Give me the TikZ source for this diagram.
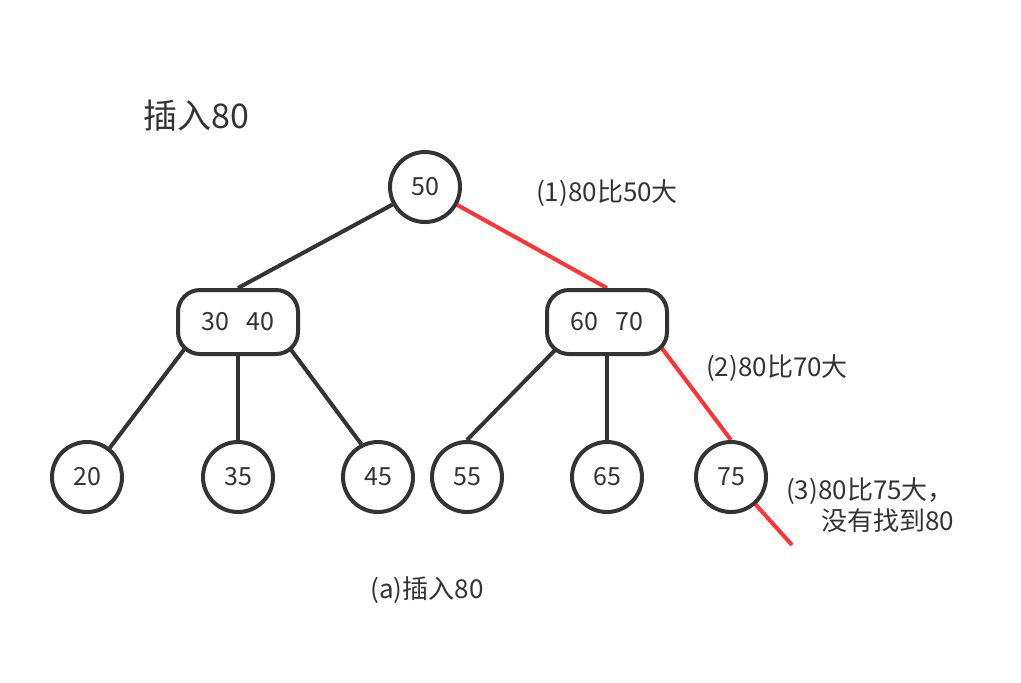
\documentclass[tikz,border=0pt]{standalone}
\usepackage{fontspec}
\setmainfont{Noto Sans CJK SC}
\usepackage{xcolor}
\usepackage{tikz}
\usetikzlibrary{calc,backgrounds}
\definecolor{linec}{HTML}{333333}
\definecolor{redc}{HTML}{FF3333}
\tikzset{
  ln/.style={line width=2pt,linec},
  rd/.style={line width=2pt,redc},
  nd/.style={circle,draw=linec,line width=2pt,fill=white,minimum size=35pt,inner sep=0pt,text=linec,font=\fontsize{12.5}{15}\selectfont},
  box/.style={draw=linec,line width=2pt,rounded corners=11pt,fill=white,minimum width=60pt,minimum height=32pt,inner sep=0pt,text=linec,font=\fontsize{12.5}{15}\selectfont},
  lab/.style={text=linec,inner sep=0pt,font=\fontsize{13}{15.5}\selectfont}
}

\begin{document}
\begin{tikzpicture}[x=0.5pt,y=-0.5pt]
\useasboundingbox (0,0) rectangle (1021,682);
\node[lab,font=\fontsize{17}{20}\selectfont] (title) at (196,116) {插入80};
\node[nd] (n50) at (425,187) {50};
\node[box] (b1) at (238,322) {30\hspace{0.7em}40};
\node[box] (b2) at (607,322) {60\hspace{0.7em}70};
\foreach \v/\x in {20/87,35/238,45/378,55/467,65/607,75/731}
 \node[nd] (n\v) at (\x,477) {\v};
\coordinate (end) at (792,545);
% edges behind the nodes
\begin{scope}[on background layer]
\draw[ln] (n50) -- (b1.north);
\draw[rd] (n50) -- (b2.north);
\draw[ln] ($(b1.south west)+(13,-13)$) -- (n20.52);
\draw[ln] (b1.south) -- (n35);
\draw[ln] ($(b1.south east)+(-14,-13)$) -- (n45.117);
\draw[ln] ($(b2.south west)+(17,-13)$) -- (n55.north);
\draw[ln] (b2.south) -- (n65);
\draw[rd] ($(b2.south east)+(-14,-17)$) -- (n75.north);
\draw[rd] (n75) -- (end);
\end{scope}
% labels
\node[lab] (s1) at (607,193) {(1)80比50大};
\node[lab] (s2) at (777,368) {(2)80比70大};
\node[lab,align=right] (s3) at (870,505) {(3)80比75大，\\没有找到80};
\node[lab] (cap) at (427,590) {(a)插入80};
\end{tikzpicture}
\end{document}
